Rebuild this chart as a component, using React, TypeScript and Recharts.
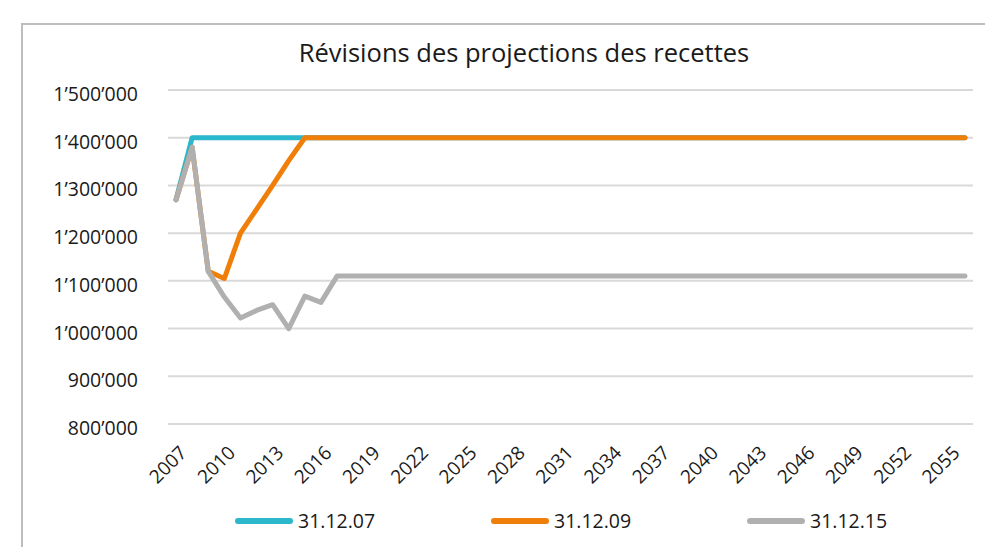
import { CartesianGrid, Line, LineChart, XAxis, YAxis } from "recharts"

const years = [
  2007, 2008, 2009, 2010, 2011, 2012, 2013, 2014, 2015, 2016,
  2017, 2018, 2019, 2020, 2021, 2022, 2023, 2024, 2025, 2026,
  2027, 2028, 2029, 2030, 2031, 2032, 2033, 2034, 2035, 2036,
  2037, 2038, 2039, 2040, 2041, 2042, 2043, 2044, 2045, 2046,
  2047, 2048, 2049, 2050, 2051, 2052, 2053, 2054, 2055, 2056,
]

const rev07 = [
  1270000, 1400000, 1400000, 1400000, 1400000, 1400000, 1400000, 1400000, 1400000, 1400000,
  1400000, 1400000, 1400000, 1400000, 1400000, 1400000, 1400000, 1400000, 1400000, 1400000,
  1400000, 1400000, 1400000, 1400000, 1400000, 1400000, 1400000, 1400000, 1400000, 1400000,
  1400000, 1400000, 1400000, 1400000, 1400000, 1400000, 1400000, 1400000, 1400000, 1400000,
  1400000, 1400000, 1400000, 1400000, 1400000, 1400000, 1400000, 1400000, 1400000, 1400000,
]

const rev09 = [
  1270000, 1380000, 1120000, 1105000, 1200000, 1250000, 1300000, 1352000, 1400000, 1400000,
  1400000, 1400000, 1400000, 1400000, 1400000, 1400000, 1400000, 1400000, 1400000, 1400000,
  1400000, 1400000, 1400000, 1400000, 1400000, 1400000, 1400000, 1400000, 1400000, 1400000,
  1400000, 1400000, 1400000, 1400000, 1400000, 1400000, 1400000, 1400000, 1400000, 1400000,
  1400000, 1400000, 1400000, 1400000, 1400000, 1400000, 1400000, 1400000, 1400000, 1400000,
]

const rev15 = [
  1270000, 1380000, 1120000, 1066000, 1022000, 1038000, 1050000, 1000000, 1068000, 1055000,
  1110000, 1110000, 1110000, 1110000, 1110000, 1110000, 1110000, 1110000, 1110000, 1110000,
  1110000, 1110000, 1110000, 1110000, 1110000, 1110000, 1110000, 1110000, 1110000, 1110000,
  1110000, 1110000, 1110000, 1110000, 1110000, 1110000, 1110000, 1110000, 1110000, 1110000,
  1110000, 1110000, 1110000, 1110000, 1110000, 1110000, 1110000, 1110000, 1110000, 1110000,
]

const yTicks = [800000, 900000, 1000000, 1100000, 1200000, 1300000, 1400000, 1500000]
const labelYears = [2007, 2010, 2013, 2016, 2019, 2022, 2025, 2028, 2031, 2034, 2037, 2040, 2043, 2046, 2049, 2052, 2055]

const series = [
  { key: "rev07", name: "31.12.07", color: "#2bb7cc" },
  { key: "rev09", name: "31.12.09", color: "#f07f09" },
  { key: "rev15", name: "31.12.15", color: "#b0b0b0" },
]

const data = years.map((year, i) => ({
  year,
  rev07: rev07[i],
  rev09: rev09[i],
  rev15: rev15[i],
}))

// tick marks sit between the categories
const markTicks = [...years.map(y => y - 0.5), years[years.length - 1] + 0.5]

const FONT = "'Open Sans', 'Noto Sans', sans-serif"
const TEXT = "#1a1a1a"
const GRID = "#d9d9d9"

const fmt = (v: number) => String(v).replace(/\B(?=(\d{3})+(?!\d))/g, "\u2019")

function YearTick({ x, y, payload }: any) {
  return (
    <g transform={`translate(${x + 12},${y + 24})`}>
      <text textAnchor="end" transform="rotate(-45)" fontSize={19} fill={TEXT} fontFamily={FONT}>
        {payload.value}
      </text>
    </g>
  )
}

function ValueTick({ x, y, payload }: any) {
  return (
    <text x={x} y={y + 11} textAnchor="end" fontSize={19.5} fill={TEXT} fontFamily={FONT}>
      {fmt(payload.value)}
    </text>
  )
}

export default function App() {
  return (
    <div style={{ position: "absolute", left: 0, top: 0, width: 985, height: 547, background: "#fff", overflow: "hidden", fontFamily: FONT }}>
      <div style={{ position: "absolute", left: 21, top: 23, width: 1000, height: 600, borderTop: `2px solid #bdbdbd`, borderLeft: `2px solid #bdbdbd` }} />
      <div style={{ position: "absolute", left: 0, top: 37, width: 1048, textAlign: "center", fontSize: 25.5, lineHeight: "30px", color: TEXT }}>
        Révisions des projections des recettes
      </div>
      <div style={{ position: "absolute", left: 0, top: 0 }}>
        <LineChart width={985} height={547} data={data} margin={{ top: 90, right: 12, bottom: 57, left: 18 }}>
          <CartesianGrid xAxisId="years" vertical={false} stroke={GRID} strokeWidth={2} />
          <XAxis
            xAxisId="marks"
            type="number"
            dataKey="year"
            domain={[2006.5, 2056.5]}
            ticks={markTicks}
            interval={0}
            tick={false}
            tickSize={6}
            tickLine={{ stroke: GRID, strokeWidth: 2 }}
            axisLine={{ stroke: GRID, strokeWidth: 2 }}
            height={6}
          />
          <XAxis
            xAxisId="years"
            type="number"
            dataKey="year"
            domain={[2006.5, 2056.5]}
            ticks={labelYears}
            interval={0}
            tick={<YearTick />}
            tickSize={0}
            tickMargin={0}
            tickLine={false}
            axisLine={false}
            height={60}
          />
          <YAxis
            type="number"
            domain={[800000, 1500000]}
            ticks={yTicks}
            interval={0}
            width={150}
            tick={<ValueTick />}
            tickSize={0}
            tickMargin={30}
            tickLine={false}
            axisLine={false}
          />
          {series.map(s => (
            <Line
              key={s.key}
              xAxisId="years"
              dataKey={s.key}
              name={s.name}
              stroke={s.color}
              strokeWidth={5}
              strokeLinecap="round"
              strokeLinejoin="round"
              dot={false}
              activeDot={false}
              isAnimationActive={false}
            />
          ))}
        </LineChart>
      </div>
      <div style={{ position: "absolute", left: 235, top: 508, display: "flex" }}>
        {series.map(s => (
          <div key={s.key} style={{ width: 256, display: "flex", alignItems: "center" }}>
            <div style={{ width: 58, height: 6, borderRadius: 3, background: s.color }} />
            <span style={{ marginLeft: 5, fontSize: 19.5, lineHeight: "26px", color: TEXT }}>{s.name}</span>
          </div>
        ))}
      </div>
    </div>
  )
}
